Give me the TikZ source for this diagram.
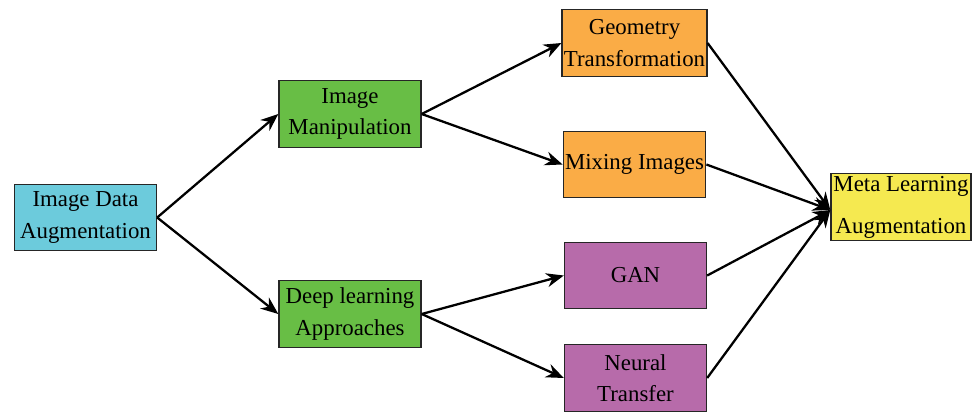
\documentclass[tikz,border=0pt]{standalone}
\usepackage{fontspec}
\setmainfont{Liberation Serif}
\newfontfamily\boxfont{Liberation Serif}
\usetikzlibrary{arrows.meta}

\definecolor{boxcyan}{RGB}{108,203,220}
\definecolor{boxgreen}{RGB}{104,190,69}
\definecolor{boxorange}{RGB}{250,172,70}
\definecolor{boxpurple}{RGB}{183,107,170}
\definecolor{boxyellow}{RGB}{245,233,80}

\begin{document}
\begin{tikzpicture}[x=0.02cm,y=-0.02cm]
    \tikzset{
        stage/.style={
            draw=black!85,
            line width=0.8pt,
            fill=#1,
            minimum width=2.84cm,
            minimum height=1.33cm,
            inner sep=1pt,
            align=center,
            font=\boxfont\fontsize{13}{18}\selectfont
        },
        flow/.style={
            -{Stealth[length=10pt,width=8pt]},
            line width=1.3pt
        }
    }

    \useasboundingbox (0,0) rectangle (974,413);

    \node[stage=boxcyan] (ida) at (85.5,217.5) {Image Data\\Augmentation};
    \node[stage=boxgreen] (im) at (350,114) {Image\\Manipulation};
    \node[stage=boxgreen] (dla) at (350,314) {Deep learning\\Approaches};
    \node[stage=boxorange] (gt) at (634.5,43) {Geometry\\Transformation};
    \node[stage=boxorange] (mi) at (634.5,164.5) {Mixing Images};
    \node[stage=boxpurple] (gan) at (635.5,275.5) {GAN};
    \node[stage=boxpurple] (nt) at (635.5,378) {Neural\\Transfer};
    \node[stage=boxyellow,minimum width=2.8cm,
          font=\boxfont\fontsize{13}{24}\selectfont] (meta) at (901,207) {Meta Learning\\Augmentation};
    \coordinate (mj) at ([yshift=-0.06cm] meta.west);

    \draw[flow] (ida.east) -- (im.west);
    \draw[flow] (ida.east) -- (dla.west);
    \draw[flow] (im.east) -- (gt.west);
    \draw[flow] (im.east) -- (mi.west);
    \draw[flow] (dla.east) -- (gan.west);
    \draw[flow] (dla.east) -- (nt.west);
    \draw[flow] (gt.east) -- (mj);
    \draw[flow] (mi.east) -- (mj);
    \draw[flow] (gan.east) -- (mj);
    \draw[flow] (nt.east) -- (mj);
\end{tikzpicture}
\end{document}
